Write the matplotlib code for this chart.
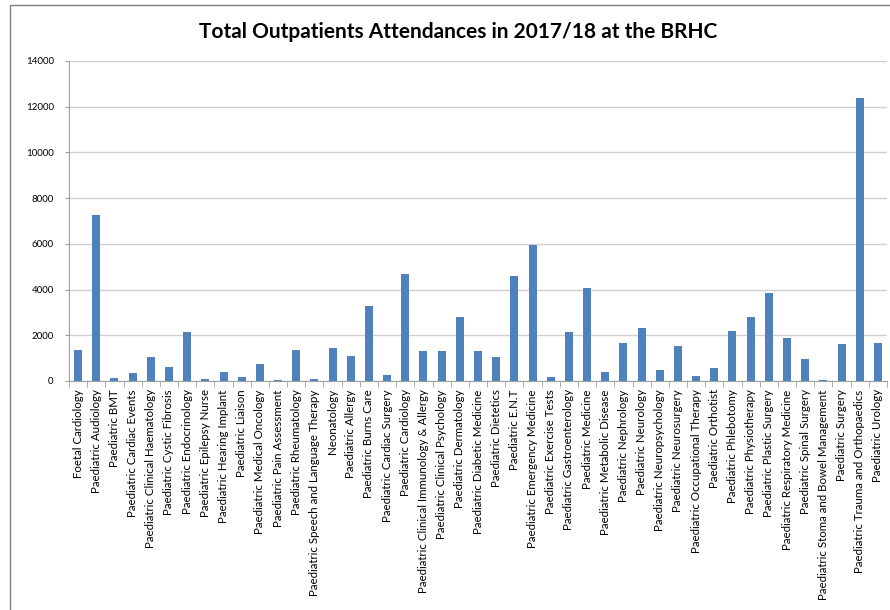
import numpy as np
import matplotlib.pyplot as plt
from matplotlib.patches import Rectangle

plt.rcParams['font.family'] = ['Lato', 'DejaVu Sans']

clinics = [
    "Foetal Cardiology", "Paediatric Audiology", "Paediatric BMT",
    "Paediatric Cardiac Events", "Paediatric Clinical Haematology",
    "Paediatric Cystic Fibrosis", "Paediatric Endocrinology",
    "Paediatric Epilepsy Nurse", "Paediatric Hearing Implant",
    "Paediatric Liaison", "Paediatric Medical Oncology",
    "Paediatric Pain Assessment", "Paediatric Rheumatology",
    "Paediatric Speech and Language Therapy", "Neonatology",
    "Paediatric Allergy", "Paediatric Burns Care", "Paediatric Cardiac Surgery",
    "Paediatric Cardiology", "Paediatric Clinical Immunology & Allergy",
    "Paediatric Clinical Psychology", "Paediatric Dermatology",
    "Paediatric Diabetic Medicine", "Paediatric Dietetics", "Paediatric E.N.T",
    "Paediatric Emergency Medicine", "Paediatric Exercise Tests",
    "Paediatric Gastroenterology", "Paediatric Medicine",
    "Paediatric Metabolic Disease", "Paediatric Nephrology",
    "Paediatric Neurology", "Paediatric Neuropsychology",
    "Paediatric Neurosurgery", "Paediatric Occupational Therapy",
    "Paediatric Orthotist", "Paediatric Phlebotomy", "Paediatric Physiotherapy",
    "Paediatric Plastic Surgery", "Paediatric Respiratory Medicine",
    "Paediatric Spinal Surgery", "Paediatric Stoma and Bowel Management",
    "Paediatric Surgery", "Paediatric Trauma and Orthopaedics",
    "Paediatric Urology",
]
attendances = [
    1350, 7250, 130, 330, 1040, 620, 2130, 100, 380, 160, 750, 50, 1360, 80,
    1430, 1100, 3300, 260, 4700, 1300, 1300, 2810, 1300, 1040, 4610, 5970,
    160, 2130, 4090, 400, 1650, 2300, 460, 1520, 200, 590, 2190, 2780, 3860,
    1870, 960, 50, 1620, 12380, 1650,
]

fig = plt.figure(figsize=(8.9, 6.1), dpi=100)
ax = fig.add_axes([69 / 890, 1 - 381 / 610, 818 / 890, 320 / 610])

x = np.arange(len(clinics))
ax.bar(x, attendances, width=0.44, color="#4F81BD", zorder=3)

ax.set_xlim(-0.5, len(clinics) - 0.5)
ax.set_ylim(0, 14000)
ax.set_yticks(np.arange(0, 14001, 2000))
ax.tick_params(axis='y', labelsize=7, length=3, color="#A0A0A0", pad=8)
ax.set_xticks(x)
ax.set_xticklabels(clinics, rotation=90, fontsize=8.3)
ax.tick_params(axis='x', length=0, pad=6)
ax.set_xticks(np.arange(-0.5, len(clinics), 1), minor=True)
ax.tick_params(axis='x', which='minor', length=4, color="#A0A0A0")

ax.grid(axis='y', color="#D0D0D0", linewidth=1, zorder=0)
for s in ['top', 'right']:
    ax.spines[s].set_visible(False)
ax.spines['left'].set_color("#A0A0A0")
ax.spines['bottom'].set_color("#A0A0A0")

fig.text(458 / 890, 1 - 32 / 610, "Total Outpatients Attendances in 2017/18 at the BRHC",
         ha='center', va='center', fontsize=15, fontweight='bold')

fig.patches.append(Rectangle((10 / 890, -0.1), 1.2, 1.1 - 5 / 610,
                             transform=fig.transFigure, fill=False,
                             edgecolor="#808080", linewidth=1))

plt.savefig('out.png')
plt.close(fig)
